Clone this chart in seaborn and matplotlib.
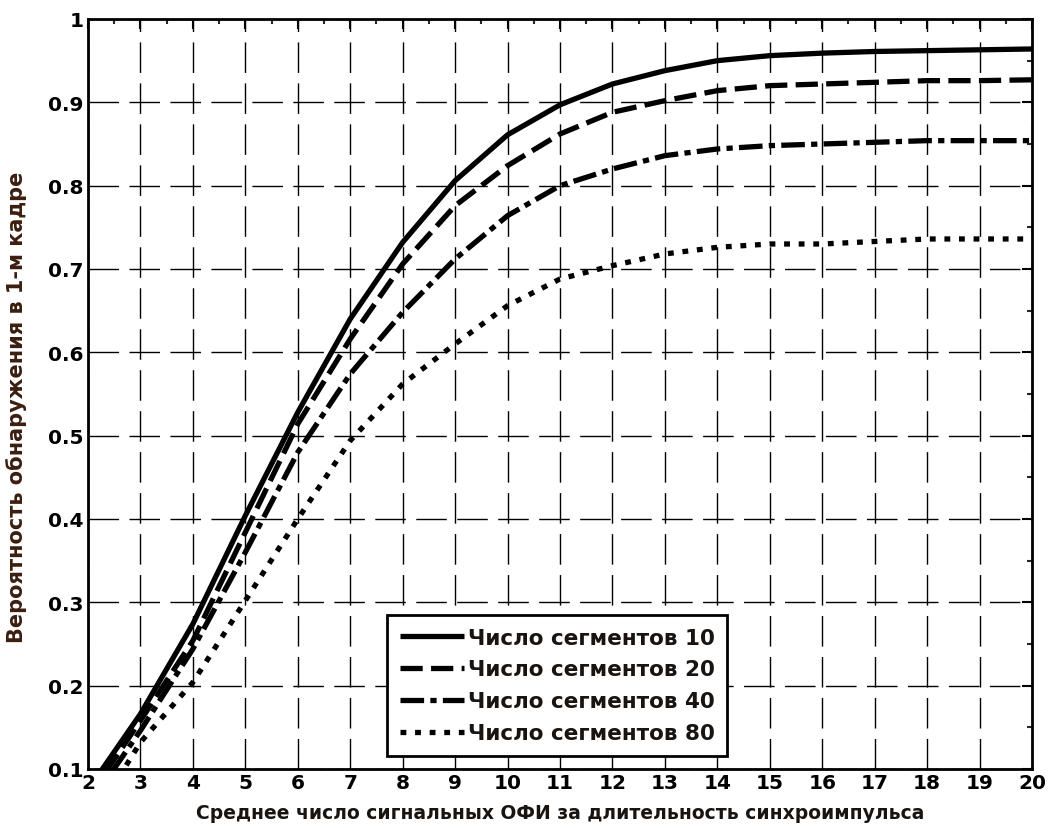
import numpy as np
import pandas as pd
import matplotlib
matplotlib.use("Agg")
import matplotlib.pyplot as plt
import seaborn as sns

# ---- data ----
x_vals = [2, 3, 4, 5, 6, 7, 8, 9, 10, 11, 12, 13, 14, 15, 16, 17, 18, 19, 20]
p_seg10 = [0.075, 0.166, 0.274, 0.404, 0.528, 0.640, 0.732, 0.806, 0.861, 0.897, 0.922, 0.938, 0.950, 0.956, 0.959, 0.961, 0.962, 0.963, 0.964]
p_seg20 = [0.065, 0.158, 0.254, 0.384, 0.514, 0.616, 0.706, 0.776, 0.824, 0.862, 0.888, 0.902, 0.914, 0.920, 0.922, 0.924, 0.926, 0.926, 0.927]
p_seg40 = [0.055, 0.146, 0.244, 0.360, 0.480, 0.574, 0.648, 0.712, 0.764, 0.800, 0.820, 0.836, 0.844, 0.848, 0.850, 0.852, 0.854, 0.854, 0.854]
p_seg80 = [0.030, 0.132, 0.204, 0.302, 0.400, 0.494, 0.562, 0.610, 0.656, 0.688, 0.704, 0.718, 0.726, 0.730, 0.730, 0.733, 0.736, 0.736, 0.736]
series_labels = ["Число сегментов 10", "Число сегментов 20", "Число сегментов 40", "Число сегментов 80"]
x_ticks = list(range(2, 21))
y_ticks = [0.1, 0.2, 0.3, 0.4, 0.5, 0.6, 0.7, 0.8, 0.9, 1.0]
y_ticklabels = ["0.1", "0.2", "0.3", "0.4", "0.5", "0.6", "0.7", "0.8", "0.9", "1"]
x_label = "Среднее число сигнальных ОФИ за длительность синхроимпульса"
y_label = "Вероятность обнаружения в 1-м кадре"

sns.set_style("white")
plt.rcParams["font.family"] = ["DejaVu Sans"]
plt.rcParams["font.weight"] = "bold"
plt.rcParams["lines.scale_dashes"] = False

fig = plt.figure(figsize=(10.5, 8.29), dpi=100)
ax = fig.add_axes([0.0838, 0.0712, 0.8991, 0.9047])

df = pd.DataFrame({
    "x": x_vals * 4,
    "p": p_seg10 + p_seg20 + p_seg40 + p_seg80,
    "s": sum([[lab] * len(x_vals) for lab in series_labels], []),
})

dash_styles = [None, (0, (16, 6)), (0, (17, 4.5, 4.5, 4.5)), (0, (4.2, 6.3))]
handles = []
for lab, ds in zip(series_labels, dash_styles):
    sub = df[df["s"] == lab]
    sns.lineplot(data=sub, x="x", y="p", ax=ax, color="black", linewidth=3.8,
                 legend=False, estimator=None, sort=True)
    ln = ax.lines[-1]
    if ds is not None:
        ln.set_linestyle(ds)
    ln.set_dash_capstyle("butt")
    ln.set_solid_capstyle("butt")
    ln.set_dash_joinstyle("miter")
    ln.set_label(lab)
    handles.append(ln)

ax.set_xlim(2, 20)
ax.set_ylim(0.1, 1.0)
ax.set_xticks(x_ticks)
ax.set_xticklabels([str(v) for v in x_ticks])
ax.set_yticks(y_ticks)
ax.set_yticklabels(y_ticklabels)
ax.set_xticks(np.arange(2.5, 20, 1.0), minor=True)
ax.set_yticks(np.arange(0.15, 1.0, 0.1), minor=True)

ax.grid(True, which="major", color="black", linestyle=(0, (22, 7.5)), linewidth=1.0)
ax.set_axisbelow(True)

ax.tick_params(axis="both", which="major", direction="in", length=7, width=1.5,
               top=True, right=True, labelsize=14.5, pad=3, colors="black")
ax.tick_params(axis="both", which="minor", direction="in", length=3.6, width=1.5,
               top=True, right=True)
for t in ax.get_xticklabels() + ax.get_yticklabels():
    t.set_fontweight("bold")

for sp in ax.spines.values():
    sp.set_visible(True)
    sp.set_color("black")
    sp.set_linewidth(2.0)

ax.set_xlabel(x_label, fontsize=13.5, fontweight="bold", color="#1a1410")
ax.xaxis.set_label_coords(0.5, -0.046)
ax.xaxis.label.set_va("top")
ax.set_ylabel(y_label, fontsize=15, fontweight="bold", color="#3a1e10")
ax.yaxis.set_label_coords(-0.065, 0.484)

leg = ax.legend(handles=handles, labels=series_labels, loc="lower left",
                bbox_to_anchor=(0.3167, 0.0173), borderaxespad=0,
                fontsize=15.5, handlelength=3.0, handletextpad=0.15,
                frameon=True, fancybox=False, edgecolor="black",
                framealpha=1, borderpad=0.6, labelspacing=0.55)
leg.get_frame().set_linewidth(2.0)
for t in leg.get_texts():
    t.set_fontweight("bold")
    t.set_color("#1a1410")

fig.savefig("out.png", dpi=100)
